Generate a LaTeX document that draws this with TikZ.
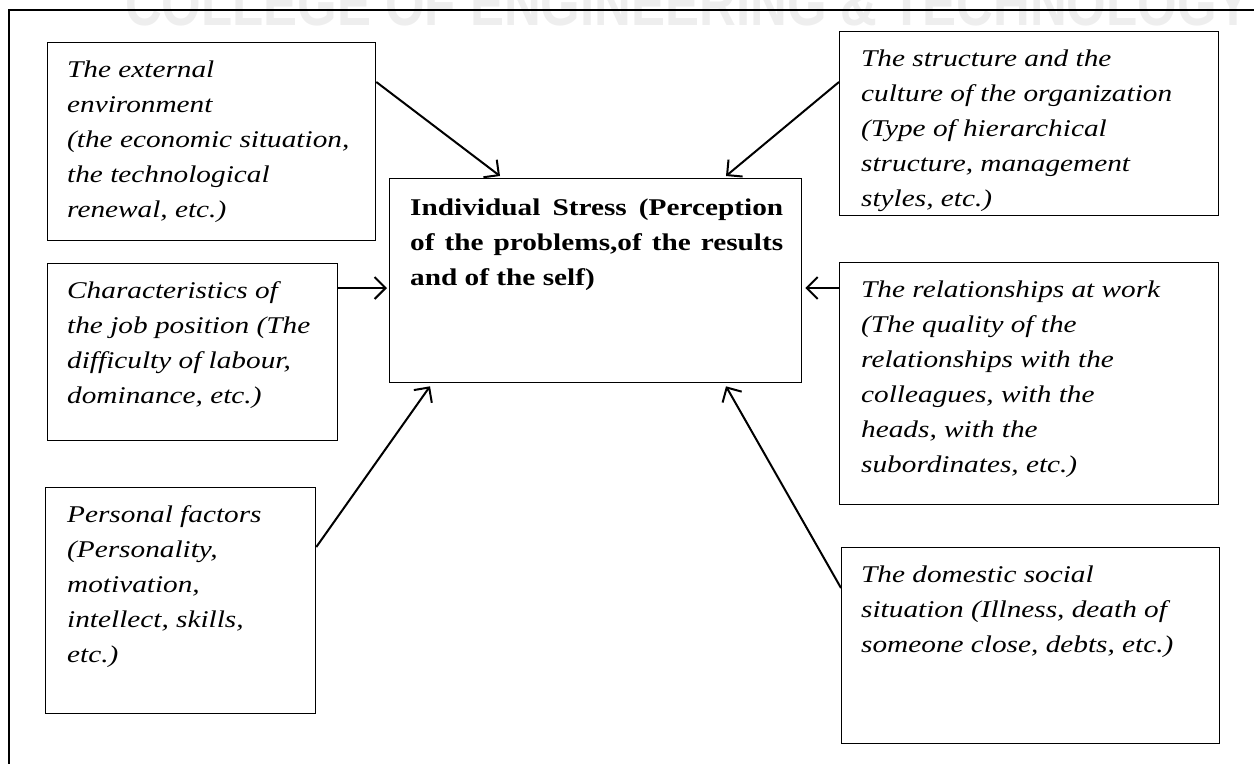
\documentclass[tikz,border=0pt]{standalone}
\usepackage{fontspec}
\setmainfont{Liberation Serif}[FakeStretch=1.22]
\setsansfont{Liberation Sans}
\usetikzlibrary{arrows.meta}
\begin{document}
\begin{tikzpicture}[x=1pt,y=-1pt,
  box/.style={draw=black, line width=1.3pt, rectangle, inner sep=0pt, anchor=north west},
  boxtext/.style={anchor=north west, inner sep=0pt, align=left,
    font=\fontsize{24}{35}\selectfont\itshape},
  headtext/.style={anchor=north west, inner sep=0pt, align=left,
    font=\fontsize{24}{35}\selectfont\bfseries},
  link/.style={line width=2pt, -{Straight Barb[length=11pt,width=22pt]}},
]
\useasboundingbox (0,0) rectangle (1254,764);

% faint watermark along the top edge
\begin{scope}
  \clip (0,0) rectangle (1254,764);
  \node[anchor=base west, inner sep=0pt, text=gray!13, font=\sffamily\bfseries] (mark) at (125,25)
    {\resizebox{1125pt}{44pt}{COLLEGE OF ENGINEERING \& TECHNOLOGY}};
\end{scope}

% outer frame
\draw[line width=2.7pt] (1254,10) -- (9,10) -- (9,764);

% boxes
\node[box, minimum width=328pt, minimum height=198pt] (b1) at (47,42) {};
\node[box, minimum width=290pt, minimum height=177pt] (b2) at (47,263) {};
\node[box, minimum width=270pt, minimum height=226pt] (b3) at (45,487) {};
\node[box, minimum width=412pt, minimum height=204pt] (c)  at (389,178) {};
\node[box, minimum width=379pt, minimum height=184pt] (r1) at (839,31) {};
\node[box, minimum width=379pt, minimum height=242pt] (r2) at (839,262) {};
\node[box, minimum width=378pt, minimum height=196pt] (r3) at (841,547) {};

% texts
\node[boxtext] (t1) at ([xshift=20pt,yshift=-10.5pt]b1.north west)
  {\strut The external\\environment\\(the economic situation,\\the technological\\renewal, etc.)};
\node[boxtext] (t2) at ([xshift=20pt,yshift=-10.5pt]b2.north west)
  {\strut Characteristics of\\the job position (The\\difficulty of labour,\\dominance, etc.)};
\node[boxtext] (t3) at ([xshift=22pt,yshift=-10.5pt]b3.north west)
  {\strut Personal factors\\(Personality,\\motivation,\\intellect, skills,\\etc.)};
\node[headtext] (tc) at ([xshift=21pt,yshift=-12.5pt]c.north west)
  {\strut\makebox[373pt][s]{Individual Stress (Perception}\\
   \makebox[373pt][s]{of the problems,of the results}\\
   and of the self)};
\node[boxtext] (tr1) at ([xshift=22pt,yshift=-10.5pt]r1.north west)
  {\strut The structure and the\\culture of the organization\\(Type of hierarchical\\structure, management\\styles, etc.)};
\node[boxtext] (tr2) at ([xshift=22pt,yshift=-10.5pt]r2.north west)
  {\strut The relationships at work\\(The quality of the\\relationships with the\\colleagues, with the\\heads, with the\\subordinates, etc.)};
\node[boxtext] (tr3) at ([xshift=20pt,yshift=-10.5pt]r3.north west)
  {\strut The domestic social\\situation (Illness, death of\\someone close, debts, etc.)};

% connectors
\draw[link] ([yshift=-40pt]b1.north east) -- ([xshift=111pt,yshift=2pt]c.north west);
\draw[link] ([yshift=-51pt]r1.north west) -- ([xshift=337pt,yshift=2pt]c.north west);
\draw[link] ([yshift=-25pt]b2.north east) -- ([xshift=-2pt,yshift=-110pt]c.north west);
\draw[link] ([yshift=-26pt]r2.north west) -- ([xshift=3pt,yshift=-110pt]c.north east);
\draw[link] ([yshift=-60pt]b3.north east) -- ([xshift=41pt,yshift=-3pt]c.south west);
\draw[link] ([yshift=-41pt]r3.north west) -- ([xshift=337pt,yshift=-3pt]c.south west);
\end{tikzpicture}
\end{document}
